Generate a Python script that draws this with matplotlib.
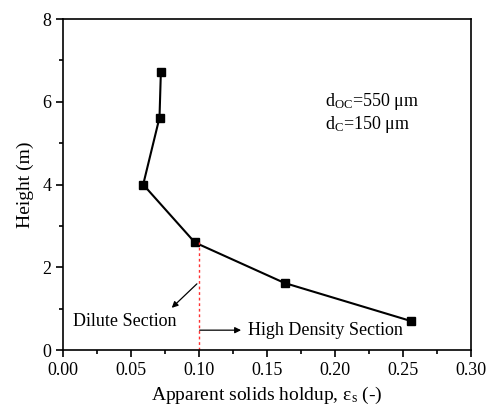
import numpy as np
from matplotlib import pyplot as plt

plt.rcParams['font.family'] = ['Liberation Serif', 'DejaVu Serif']
plt.rcParams['mathtext.fontset'] = 'custom'
plt.rcParams['mathtext.rm'] = 'Liberation Serif'
plt.rcParams['mathtext.it'] = 'Liberation Serif:italic'

# data
holdup = [0.072, 0.071, 0.059, 0.097, 0.163, 0.256]
height = [6.72, 5.62, 4.00, 2.60, 1.62, 0.70]
xticks = [0.00, 0.05, 0.10, 0.15, 0.20, 0.25, 0.30]
yticks = [0, 2, 4, 6, 8]
boundary = 0.10

fig = plt.figure(figsize=(4.88, 4.07), dpi=100)
ax = fig.add_axes([0.129, 0.140, 0.836, 0.813])

ax.plot(holdup, height, color='black', lw=1.5, marker='s', ms=6)
ax.plot([boundary, boundary], [0, height[3]], color='#ff3030', ls=(0, (2, 2)), lw=1.0)

arrow = dict(arrowstyle='-|>', color='black', lw=0.9, mutation_scale=9, shrinkA=0, shrinkB=0)
ax.annotate('', xy=(0.080, 1.02), xytext=(0.0985, 1.60), arrowprops=arrow)
ax.text(0.0075, 0.70, 'Dilute Section', fontsize=13, va='center')
ax.annotate('', xy=(0.131, 0.48), xytext=(0.1005, 0.48), arrowprops=arrow)
ax.text(0.136, 0.48, 'High Density Section', fontsize=13, va='center')

ax.text(0.193, 6.0, r'd$_{\rm OC}$=550 μm', fontsize=13, va='center')
ax.text(0.193, 5.45, r'd$_{\rm C}$=150 μm', fontsize=13, va='center')

ax.set_xlim(0, 0.30)
ax.set_ylim(0, 8)
ax.set_xticks(xticks)
ax.set_xticklabels([f'{v:.2f}' for v in xticks])
ax.set_yticks(yticks)
ax.set_xticks(np.arange(0.025, 0.30, 0.05), minor=True)
ax.set_yticks([1, 3, 5, 7], minor=True)
ax.tick_params(which='both', direction='out', top=False, right=False, labelsize=13, width=1.2)
ax.tick_params(which='major', length=5)
ax.tick_params(which='minor', length=3)
for s in ax.spines.values():
    s.set_linewidth(1.2)

ax.set_xlabel(r'Apparent solids holdup, ε$_{\rm s}$ (-)', fontsize=14, labelpad=4)
ax.set_ylabel('Height (m)', fontsize=14, labelpad=6)

fig.savefig('out.png', dpi=100)
